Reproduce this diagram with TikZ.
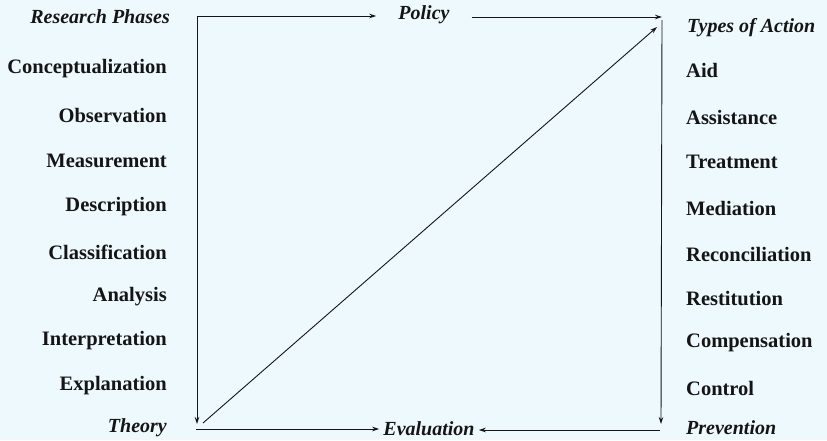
\documentclass[tikz,border=0pt]{standalone}
\usepackage{fontspec}
\setmainfont{Liberation Serif}
\usetikzlibrary{arrows.meta}
\definecolor{bg}{HTML}{EEF9FD}
\definecolor{ink}{HTML}{151515}
\begin{document}
\begin{tikzpicture}[x=1pt,y=-1pt,
  lbl/.style={font=\fontsize{20.5}{23}\selectfont\bfseries, text=ink, inner sep=0pt},
  lft/.style={lbl, anchor=east},
  rgt/.style={lbl, anchor=west},
  ital/.style={font=\fontsize{20}{23}\selectfont\bfseries\itshape, text=ink},
  conn/.style={draw=ink, line width=0.9pt},
  arr/.style={conn, -{Stealth[length=7pt,width=4.5pt]}}]
\fill[bg] (0,0) rectangle (827,440);
\useasboundingbox (0,0) rectangle (827,440);
% left column
\node[lft, ital] (rp) at (170,17) {Research Phases};
\node[lft] (l1) at (167,69) {Conceptualization};
\node[lft] (l2) at (167,115) {Observation};
\node[lft] (l3) at (167,161) {Measurement};
\node[lft] (l4) at (167,207) {Description};
\node[lft] (l5) at (167,252) {Classification};
\node[lft] (l6) at (167,297) {Analysis};
\node[lft] (l7) at (167,341) {Interpretation};
\node[lft] (l8) at (167,386) {Explanation};
\node[lft, ital] (th) at (167,428) {Theory};
% right column
\node[rgt, ital] (ta) at (687,28) {Types of Action};
\node[rgt] (r1) at (686,70) {Aid};
\node[rgt] (r2) at (686,117) {Assistance};
\node[rgt] (r3) at (686,162) {Treatment};
\node[rgt] (r4) at (686,208) {Mediation};
\node[rgt] (r5) at (686,254) {Reconciliation};
\node[rgt] (r6) at (686,299) {Restitution};
\node[rgt] (r7) at (686,343) {Compensation};
\node[rgt] (r8) at (686,388) {Control};
\node[rgt, ital] (pv) at (686,428) {Prevention};
% middle labels
\node[ital, inner xsep=22pt, inner ysep=0pt] (pol) at (424,15) {Policy};
\node[ital, inner xsep=4pt, inner ysep=0pt] (ev) at (429,429) {Evaluation};
% corners
\coordinate (tl) at (197,16);
\coordinate (bl) at (197,424);
\coordinate (bls) at (196,429);
\coordinate (tr) at (662,17);
\coordinate (trs) at (662,20);
\coordinate (br) at (661,424);
\coordinate (brs) at (660,430);
\coordinate (ds) at (203,423);
\coordinate (de) at (657,27);
% connectors
\draw[arr] (tl) -- (tl -| pol.west);
\draw[arr] (pol.east |- tr) -- (tr);
\draw[arr] (tl) -- (bl);
\draw[arr] (trs) -- (br);
\draw[arr] (ds) -- (de);
\draw[arr] (bls) -- (bls -| ev.west);
\draw[arr] (brs) -- (brs -| ev.east);
\end{tikzpicture}
\end{document}
